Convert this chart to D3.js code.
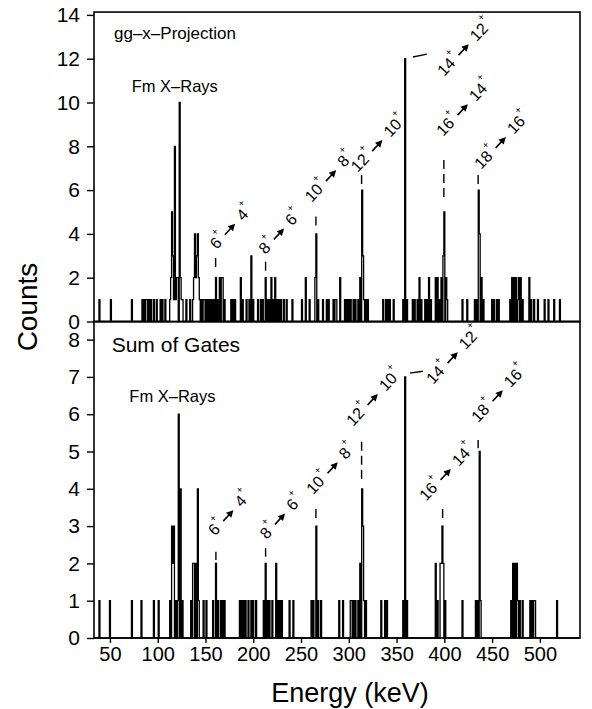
<!DOCTYPE html>
<html><head><meta charset="utf-8">
<script src="https://cdn.jsdelivr.net/npm/d3@7"></script>
<style>
body{margin:0;background:#fff}
text{font-family:"Liberation Sans",Arial,Helvetica,sans-serif;fill:#000}
</style>
</head><body>
<svg id="c" width="592" height="709"></svg>
<script>
// ---------------- data ----------------
const xTicks=[50,100,150,200,250,300,350,400,450,500];
const topTicks=[0,2,4,6,8,10,12,14];
const botTicks=[0,1,2,3,4,5,6,7,8];

// gg-x projection (energy keV, counts per 1 keV bin)
const topE=[39,51,73,84,86,88,89,91,93,96,99,103,105,108,
 113,114,115,116,117,118,119,120,121,123,124,125,126,
 130,134,137,138,139,140,141,142,143,144,
 146,148,149,151,153,155,157,159,161,163,165,167,168,170,
 177,179,181,187,189,193,196,198,200,
 205,208,210,213,215,217,219,221,223,225,227,229,232,235,241,
 251,255,259,265,266,268,273,277,279,284,286,287,
 291,296,298,300,302,305,307,
 310,312,314,315,316,318,320,
 336,339,341,343,347,
 357,359,361,
 367,369,372,374,376,380,382,384,386,
 391,393,395,397,399,400,402,403,
 419,424,432,434,436,437,439,441,
 450,452,455,457,
 469,471,473,475,477,478,480,482,
 489,491,494,498,505,509,515,521];
const topC=[1,1,1,1,1,1,1,1,1,1,1,1,1,1,
 1,2,5,3,1,8,1,2,2,10,2,1,1,
 1,1,1,2,4,2,3,4,2,1,
 1,1,1,1,1,1,1,1,2,1,2,2,2,1,
 1,1,1,2,1,1,1,3,1,
 1,1,1,2,1,1,2,1,2,1,1,1,1,1,1,
 1,2,1,2,4,1,1,1,1,1,1,1,
 2,1,1,1,1,1,1,
 1,2,6,3,1,1,1,
 1,1,1,1,1,
 1,12,1,
 1,1,1,2,1,1,1,2,1,
 2,2,1,2,3,5,2,1,
 1,1,1,1,6,4,2,1,
 1,1,1,1,
 1,2,2,2,1,2,2,1,
 2,1,1,1,1,1,1,1];

// sum of gates
const botE=[39,50,73,83,96,101,
 113,115,116,117,119,121,122,124,126,
 135,137,138,140,142,143,
 148,151,158,161,163,166,168,170,
 186,188,190,192,195,198,200,203,
 211,213,215,217,220,224,226,228,230,
 238,242,261,263,266,268,271,
 290,294,302,303,305,307,310,
 312,314,315,316,318,
 334,338,340,
 357,359,361,
 391,393,396,397,398,399,401,
 419,433,435,437,438,
 470,472,474,476,477,479,482,
 490,492,494,495,518];
const botC=[1,1,1,1,1,1,
 1,3,2,3,1,1,6,4,1,
 1,2,2,2,4,1,
 1,1,1,2,1,1,1,1,
 1,1,1,1,1,1,1,1,
 1,2,1,1,1,2,1,1,1,
 1,1,1,1,3,1,1,
 1,1,1,1,1,1,1,
 2,4,3,1,1,
 1,1,1,
 1,7,1,
 2,1,2,2,3,2,1,
 1,1,1,5,1,
 1,2,2,2,1,1,1,
 1,1,1,1,1];

// transitions (spin from -> to)
const transFrom=["6","8","10","12","14","16","18"];
const transTo=["4","6","8","10","12","14","16"];

// top panel annotation anchors (keV, counts)
const topLabE=[161.7,212.9,261.1,309.5,399.9,398.9,438.7];
const topLabC=[3.26,3.04,5.41,6.78,11.16,8.42,6.92];
const topDashE=[160.6,212.9,265.6,313.4,399.5,435.4];
const topDashHi=[2.90,2.73,4.79,6.69,7.37,6.69];
const topDashLo=[2.49,2.31,4.36,6.23,5.50,6.23];
const topLeader=[[367.1,12.08],[381.7,12.21]];

// bottom panel annotation anchors (keV, counts)
const botLabE=[159.9,214.0,262.8,304.7,388.4,381.1,435.5];
const botLabC=[2.72,2.63,3.83,5.66,6.78,3.65,5.76];
const botDashE=[160.9,212.9,265.6,313.4,398.2,435.4];
const botDashHi=[2.31,2.41,3.46,5.26,3.46,5.31];
const botDashLo=[2.09,2.18,3.22,4.16,3.22,5.09];
const botLeader=[[363.9,7.10],[377.5,7.15]];

// ---------------- drawing ----------------
const svg=d3.select("#c");
const X0=94,X1=580;
const x=d3.scaleLinear().domain([33.3,542]).range([X0,X1]);
const yT=d3.scaleLinear().domain([0,14]).range([321.5,14.9]);
const yB=d3.scaleLinear().domain([0,8]).range([638,339.6]);
const topMax=14.13, botMax=8.48;

function hist(E,C,y){
  const m=new Map(E.map((e,i)=>[e,C[i]]));
  const pts=[];
  for(let e=34;e<=541;e++) pts.push([e-0.5,m.get(e)||0]);
  pts.push([541.5,0]);
  const line=d3.line().x(d=>x(d[0])).y(d=>y(d[1])).curve(d3.curveStepAfter);
  svg.append("path").attr("d",line(pts)).attr("fill","none")
    .attr("stroke","#000").attr("stroke-width",1.3);
}
hist(topE,topC,yT);
hist(botE,botC,yB);

function label(px,py,from,to){
  const g=svg.append("g").attr("transform",`translate(${px},${py}) rotate(-47)`);
  const t1=g.append("text").attr("font-size",16).text(from);
  const w1=t1.node().getComputedTextLength();
  g.append("text").attr("x",w1+0.3).attr("y",-10.5).attr("font-size",10).text("+");
  const a0=w1+8,a1=w1+23,h=-4.5;
  g.append("path").attr("d",
    `M${a0},${h-0.8}L${a1-7},${h-0.8}L${a1-7},${h-3.6}L${a1},${h}L${a1-7},${h+3.6}L${a1-7},${h+0.8}L${a0},${h+0.8}Z`)
    .attr("fill","#000");
  const t2=g.append("text").attr("x",w1+30).attr("font-size",16).text(to);
  const w2=t2.node().getComputedTextLength();
  g.append("text").attr("x",w1+30+w2+0.3).attr("y",-10.5).attr("font-size",10).text("+");
}
function annotate(y,LE,LC,DE,DH,DL,leader){
  LE.forEach((e,i)=>label(x(e),y(LC[i]),transFrom[i],transTo[i]));
  DE.forEach((e,i)=>{
    svg.append("line").attr("x1",x(e)).attr("x2",x(e))
      .attr("y1",y(DH[i])).attr("y2",y(DL[i]))
      .attr("stroke","#000").attr("stroke-width",1.4).attr("stroke-dasharray","9,5");
  });
  svg.append("line").attr("x1",x(leader[0][0])).attr("y1",y(leader[0][1]))
    .attr("x2",x(leader[1][0])).attr("y2",y(leader[1][1]))
    .attr("stroke","#000").attr("stroke-width",1.4);
}
annotate(yT,topLabE,topLabC,topDashE,topDashHi,topDashLo,topLeader);
annotate(yB,botLabE,botLabC,botDashE,botDashHi,botDashLo,botLeader);

// frames
svg.append("rect").attr("x",X0).attr("y",yT(topMax)).attr("width",X1-X0)
  .attr("height",yT(0)-yT(topMax)).attr("fill","none").attr("stroke","#000").attr("stroke-width",1.6);
svg.append("rect").attr("x",X0).attr("y",yB(botMax)).attr("width",X1-X0)
  .attr("height",yB(0)-yB(botMax)).attr("fill","none").attr("stroke","#000").attr("stroke-width",1.6);

// axes
function styleAxis(size){
  return g=>{
    g.select(".domain").remove();
    g.selectAll(".tick line").attr("stroke","#000").attr("stroke-width",1.4);
    g.selectAll(".tick text").attr("font-size",size).attr("font-family","Liberation Sans, Arial, sans-serif").attr("fill","#000");
  };
}
svg.append("g").attr("transform",`translate(${X0},0)`)
  .call(d3.axisLeft(yT).tickValues(topTicks).tickSize(7).tickPadding(7)).call(styleAxis(21));
svg.append("g").attr("transform",`translate(${X0},0)`)
  .call(d3.axisLeft(yB).tickValues(botTicks).tickSize(7).tickPadding(7)).call(styleAxis(21));
svg.append("g").attr("transform",`translate(0,${yB(0)})`)
  .call(d3.axisBottom(x).tickValues(xTicks).tickSize(5).tickPadding(4)).call(styleAxis(20));

// texts
svg.append("text").attr("x",114).attr("y",39).attr("font-size",17).text("gg–x–Projection");
svg.append("text").attr("x",131.7).attr("y",91.7).attr("font-size",16.5).text("Fm X–Rays");
svg.append("text").attr("x",111.7).attr("y",351.7).attr("font-size",21).text("Sum of Gates");
svg.append("text").attr("x",129.3).attr("y",401.7).attr("font-size",16.5).text("Fm X–Rays");
svg.append("text").attr("x",350).attr("y",702).attr("text-anchor","middle")
  .attr("font-size",27).text("Energy (keV)");
svg.append("text").attr("transform","translate(37,307) rotate(-90)").attr("text-anchor","middle")
  .attr("font-size",28).text("Counts");
</script>
</body></html>
